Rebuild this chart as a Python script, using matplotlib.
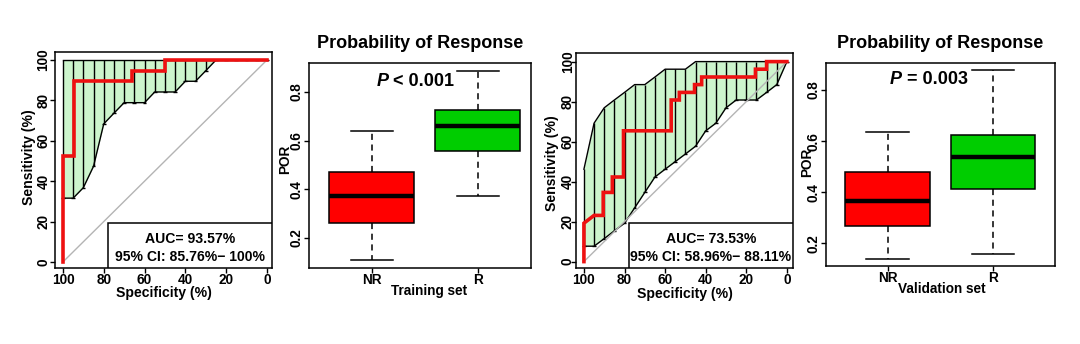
import matplotlib
matplotlib.use("Agg")
import matplotlib.pyplot as plt
from matplotlib.patches import Rectangle

plt.rcParams["font.family"] = ["Liberation Sans", "DejaVu Sans"]
plt.rcParams["font.weight"] = "bold"

FIG_W, FIG_H = 1080, 344

# ROC curves (specificity %, sensitivity %)
train_roc_spec = [100, 100, 94.7, 94.7, 66.2, 66.2, 50.1, 50.1, 0]
train_roc_sens = [0, 52.6, 52.6, 89.5, 89.5, 94.7, 94.7, 100, 100]

valid_roc_spec = [100, 100, 95, 90.5, 90.5, 86, 86, 80.5, 80.5, 57, 57, 53, 53,
                  45.5, 45.5, 42, 42, 15.5, 15.5, 10, 10, 0]
valid_roc_sens = [0, 19.2, 23.1, 23.1, 34.6, 34.6, 42.3, 42.3, 65.4, 65.4, 80.8,
                  80.8, 84.6, 84.6, 88.5, 88.5, 92.3, 92.3, 96.2, 96.2, 100, 100]

# CI of sensitivity at fixed specificities
ci_spec = [100, 95, 90, 85, 80, 75, 70, 65, 60, 55, 50, 45, 40, 35, 30, 25, 20, 15, 10, 5, 0]
train_ci_lower = [31.6, 31.6, 36.8, 47.4, 68.4, 73.7, 78.9, 78.9, 78.9, 84.2, 84.2,
                  84.2, 89.5, 89.5, 94.7, 100, 100, 100, 100, 100, 100]
train_ci_upper = [100, 100, 100, 100, 100, 100, 100, 100, 100, 100, 100,
                  100, 100, 100, 100, 100, 100, 100, 100, 100, 100]
valid_ci_lower = [7.7, 7.7, 11.5, 15.4, 19.2, 26.9, 34.6, 42.3, 46.2, 50.0, 53.8,
                  57.7, 65.4, 69.2, 76.9, 80.8, 80.8, 80.8, 84.6, 88.5, 100]
valid_ci_upper = [46.2, 69.2, 76.9, 80.8, 84.6, 88.5, 88.5, 92.3, 96.2, 96.2, 96.2,
                  100, 100, 100, 100, 100, 100, 100, 100, 100, 100]

train_auc_text = ["AUC= 93.57%", "95% CI: 85.76%\u2212 100%"]
valid_auc_text = ["AUC= 73.53%", "95% CI: 58.96%\u2212 88.11%"]

# box plot stats: whislo, q1, med, q3, whishi
groups = ["NR", "R"]
train_nr = [0.109, 0.260, 0.373, 0.472, 0.640]
train_r = [0.373, 0.557, 0.659, 0.725, 0.886]
valid_nr = [0.140, 0.269, 0.364, 0.481, 0.636]
valid_r = [0.159, 0.412, 0.537, 0.624, 0.878]
box_colors = ["#ff0000", "#00cd00"]


def add_axes_px(fig, left, top, right, bottom):
    return fig.add_axes([left / FIG_W, (FIG_H - bottom) / FIG_H,
                         (right - left) / FIG_W, (bottom - top) / FIG_H])


def style_frame(ax, ypad):
    for sp in ax.spines.values():
        sp.set_linewidth(1.1)
    ax.tick_params(direction="out", length=3.4, width=1, labelsize=9.8, pad=0)
    ax.tick_params(axis="y", labelrotation=90, pad=ypad)
    for lab in ax.get_yticklabels():
        lab.set_va("center")


def place_labels(ax, ylab_xy, xlab_xy):
    ax.yaxis.set_label_coords(*ylab_xy)
    ax.yaxis.label.set_va("center")
    ax.xaxis.set_label_coords(*xlab_xy)
    ax.xaxis.label.set_va("center")


def draw_roc(ax, spec, sens, lower, upper, auc_lines, xlim, ylim, ylab_xy, xlab_xy, ypad):
    ax.fill_between(ci_spec, lower, upper, color="#cdf5cd", lw=0, zorder=1)
    ax.vlines(ci_spec, lower, upper, color="black", lw=1, zorder=2)
    cap = 0.9
    ax.hlines(lower, [s - cap for s in ci_spec], [s + cap for s in ci_spec],
              color="black", lw=1, zorder=2)
    ax.plot(ci_spec, lower, color="black", lw=1, zorder=2)
    ax.plot(ci_spec, upper, color="black", lw=1, zorder=2)
    ax.plot([100, 0], [0, 100], color="#b4b4b4", lw=1, zorder=3)
    ax.plot(spec, sens, color="#ee1111", lw=2.6, zorder=4, solid_joinstyle="miter")
    ax.set_xlim(*xlim)
    ax.set_ylim(*ylim)
    ax.set_xticks([100, 80, 60, 40, 20, 0])
    ax.set_yticks([0, 20, 40, 60, 80, 100])
    style_frame(ax, ypad)
    ax.set_xlabel("Specificity (%)", fontsize=10.1, fontweight="bold")
    ax.set_ylabel("Sensitivity (%)", fontsize=10.1, fontweight="bold")
    place_labels(ax, ylab_xy, xlab_xy)
    box = Rectangle((0.244, 0.0), 0.756, 0.21, transform=ax.transAxes,
                    facecolor="white", edgecolor="black", lw=1.1, zorder=5)
    ax.add_patch(box)
    ax.text(0.622, 0.135, auc_lines[0], transform=ax.transAxes, ha="center",
            va="center", fontsize=10.1, fontweight="bold", zorder=6)
    ax.text(0.622, 0.052, auc_lines[1], transform=ax.transAxes, ha="center",
            va="center", fontsize=10.1, fontweight="bold", zorder=6)


def draw_box(ax, nr, r, xlim, ylim, ptext, pxy, xlabel, ylab_xy, xlab_xy):
    stats = []
    for name, v in zip(groups, [nr, r]):
        stats.append(dict(label=name, whislo=v[0], q1=v[1], med=v[2], q3=v[3], whishi=v[4]))
    bp = ax.bxp(stats, positions=[1, 2], widths=0.8, capwidths=0.4,
                patch_artist=True, showfliers=False,
                boxprops=dict(edgecolor="black", lw=1.1),
                medianprops=dict(color="black", lw=3.2, solid_capstyle="butt"),
                whiskerprops=dict(color="black", lw=1.1, ls=(0, (4, 3))),
                capprops=dict(color="black", lw=1.1))
    for patch, c in zip(bp["boxes"], box_colors):
        patch.set_facecolor(c)
    ax.set_xlim(*xlim)
    ax.set_ylim(*ylim)
    ax.set_yticks([0.2, 0.4, 0.6, 0.8])
    style_frame(ax, 0.5)
    ax.tick_params(axis="x", labelsize=9.8, pad=0)
    ax.set_title("Probability of Response", fontsize=13, fontweight="bold", pad=11)
    ax.set_ylabel("POR", fontsize=9.8, fontweight="bold")
    ax.set_xlabel(xlabel, fontsize=9.8, fontweight="bold")
    place_labels(ax, ylab_xy, xlab_xy)
    ax.text(pxy[0], pxy[1], "P", ha="right", va="center", fontsize=13,
            fontweight="bold", fontstyle="italic")
    ax.text(pxy[0], pxy[1], " " + ptext, ha="left", va="center", fontsize=13,
            fontweight="bold")


fig = plt.figure(figsize=(FIG_W / 100, FIG_H / 100), dpi=100)
fig.patch.set_facecolor("white")

ax1 = add_axes_px(fig, 55, 52, 272, 268)
draw_roc(ax1, train_roc_spec, train_roc_sens, train_ci_lower, train_ci_upper,
         train_auc_text, (103.9, -2.5), (-3, 104), (-0.12, 0.514), (0.5, -0.117), 0)

ax2 = add_axes_px(fig, 309, 63, 531, 268)
draw_box(ax2, train_nr, train_r, (0.408, 2.502), (0.077, 0.919), "< 0.001",
         (1.155, 0.842), "Training set", (-0.108, 0.53), (0.54, -0.112))

ax3 = add_axes_px(fig, 576, 53, 793, 268)
draw_roc(ax3, valid_roc_spec, valid_roc_sens, valid_ci_lower, valid_ci_upper,
         valid_auc_text, (103.9, -3), (-3.2, 104.3), (-0.11, 0.486), (0.5, -0.12), -2.5)

ax4 = add_axes_px(fig, 826, 63, 1055, 266)
draw_box(ax4, valid_nr, valid_r, (0.416, 2.59), (0.111, 0.906), "= 0.003",
         (1.137, 0.842), "Validation set", (-0.083, 0.51), (0.507, -0.115))

fig.savefig("out.png", dpi=100, facecolor="white")
